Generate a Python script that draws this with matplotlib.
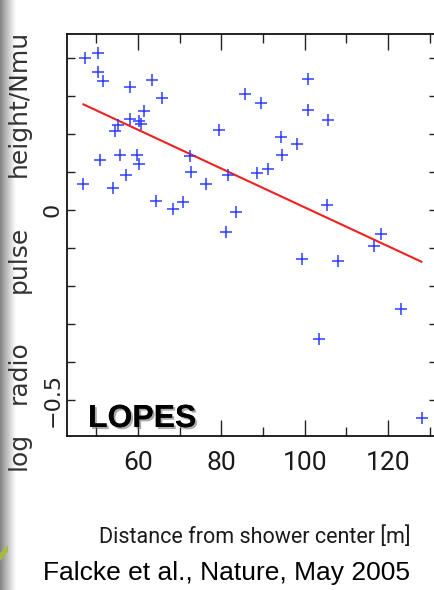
import numpy as np
import matplotlib
matplotlib.use("Agg")
import matplotlib.pyplot as plt
import matplotlib.patheffects as pe
from matplotlib.patches import Polygon

# ---- data ----
distance_m = [47.2, 50.5, 50.3, 51.7, 58.1, 63.4, 65.8, 85.7, 89.4, 100.9, 100.9, 105.5,
              94.3, 98.2, 94.6, 79.5, 88.5, 91.1, 81.5, 72.5, 72.7, 76.2, 46.9, 53.9,
              50.8, 55.8, 59.7, 60.3, 57.1, 54.5, 55.1, 58.2, 60.3, 60.7, 61.4, 64.3,
              68.5, 70.7, 81.2, 83.6, 105.3, 99.3, 108.1, 116.6, 118.2, 103.4, 123.0, 128.1]
log_pulse = [0.399, 0.412, 0.362, 0.339, 0.324, 0.343, 0.296, 0.305, 0.282, 0.345, 0.263, 0.237,
             0.193, 0.173, 0.145, 0.210, 0.097, 0.109, 0.092, 0.143, 0.101, 0.069, 0.068, 0.057,
             0.132, 0.146, 0.145, 0.121, 0.093, 0.208, 0.224, 0.239, 0.235, 0.226, 0.260, 0.024,
             0.003, 0.021, -0.059, -0.004, 0.013, -0.130, -0.135, -0.096, -0.062, -0.340, -0.261, -0.547]
fit_x = [46.9, 128.0]
fit_y = [0.278, -0.136]

x_major = [60, 80, 100, 120]
x_minor = [50, 70, 90, 110, 130]
y_major = [-0.5, 0.0]
y_major_labels = ["\u22120.5", "0"]
y_minor = [-0.4, -0.3, -0.2, -0.1, 0.1, 0.2, 0.3, 0.4]

ylabel_words = ["log", "radio", "pulse", "height/Nmu"]
ylabel_centers_px = [451, 372, 259, 103]

narrow = dict(family="Roboto", fontweight="normal")

W, H = 435, 590
fig = plt.figure(figsize=(W / 100, H / 100), dpi=100)

# left gray gradient strip
bg = fig.add_axes([0, 0, 1, 1], zorder=-10)
bg.set_xlim(0, W)
bg.set_ylim(H, 0)
bg.axis("off")
xs = np.linspace(0, 16, 60)
vals = np.clip(0.50 + 0.50 * (xs / 16) ** 0.9, 0, 1)
grad = np.tile(vals, (10, 1))
bg.imshow(grad, cmap="gray", vmin=0, vmax=1, extent=[0, 16, H, 0], aspect="auto")
bg.add_patch(Polygon([[0, 561], [0, 553], [8, 545], [8, 552]], closed=True,
                     facecolor="#a6bd3a", edgecolor="none", alpha=0.9))

# main axes
x0, x1 = 67, 437
y0, y1 = 34, 436
ax = fig.add_axes([x0 / W, 1 - y1 / H, (x1 - x0) / W, (y1 - y0) / H])
ax.set_xlim(60 + (x0 - 138) / 4.1667, 60 + (x1 - 138) / 4.1667)
ax.set_ylim((210 - y1) / 380, (210 - y0) / 380)

ax.plot(distance_m, log_pulse, linestyle="none", marker="+", ms=8.5, mew=1.1,
        color="#2f3dff", zorder=3)
ax.plot(fit_x, fit_y, color="#f02020", lw=1.5, zorder=2)

for s in ax.spines.values():
    s.set_linewidth(1.3)
    s.set_color("#111111")

ax.set_xticks(x_major)
ax.set_xticks(x_minor, minor=True)
ax.set_xticklabels([str(v) for v in x_major], fontsize=19, color="#1a1a1a", **narrow)
ax.set_yticks(y_major)
ax.set_yticks(y_minor, minor=True)
ax.set_yticklabels(y_major_labels, rotation=90, va="center", fontsize=16,
                   family="DejaVu Sans", color="#222222")
ax.tick_params(axis="x", which="major", direction="in", length=11.5, width=1.0,
               top=True, bottom=True, pad=11, color="#222222")
ax.tick_params(axis="x", which="minor", direction="in", length=6.5, width=1.0,
               top=True, bottom=True, color="#222222")
ax.tick_params(axis="y", which="both", direction="in", length=6, width=1.0,
               left=True, right=True, color="#222222")
ax.tick_params(axis="y", which="major", pad=3)

ax.text(88 / W, 1 - 427 / H, "LOPES", transform=fig.transFigure, ha="left", va="baseline",
        fontsize=23, fontweight="bold", family="Liberation Sans", color="black",
        path_effects=[pe.withSimplePatchShadow(offset=(1.5, -1.5), shadow_rgbFace="0.45",
                                               alpha=0.6), pe.Normal()], zorder=5)

# y label, word by word
for word, cy in zip(ylabel_words, ylabel_centers_px):
    fig.text(18.5 / W, 1 - cy / H, word, rotation=90, ha="center", va="center",
             fontsize=18, family="DejaVu Sans", color="#333333")

fig.text(255 / W, 1 - 537 / H, "Distance from shower center [m]", ha="center", va="center",
         fontsize=15.5, color="#1a1a1a", **narrow)
fig.text(226.5 / W, 1 - 573 / H, "Falcke et al., Nature, May 2005", ha="center", va="center",
         fontsize=19, family="Liberation Sans", color="black")

fig.savefig("out.png", dpi=100)
